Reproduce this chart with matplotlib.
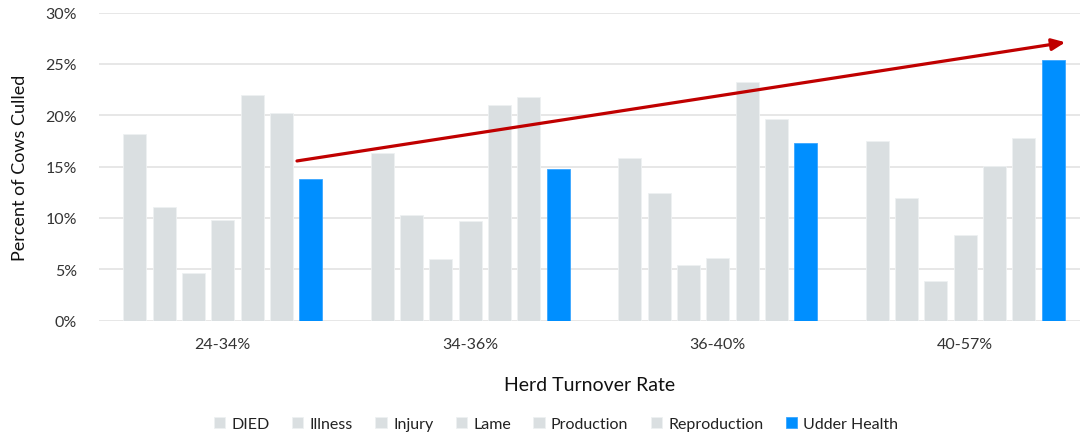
import matplotlib.pyplot as plt
import numpy as np

plt.rcParams['font.family'] = ['Lato', 'DejaVu Sans']

# data (percent of cows culled)
groups = ['24-34%', '34-36%', '36-40%', '40-57%']
reasons = ['DIED', 'Illness', 'Injury', 'Lame', 'Production', 'Reproduction', 'Udder Health']
died = [18.2, 16.3, 15.8, 17.5]
illness = [11.1, 10.3, 12.4, 11.9]
injury = [4.6, 6.0, 5.4, 3.9]
lame = [9.8, 9.7, 6.1, 8.3]
production = [22.0, 21.0, 23.2, 15.1]
reproduction = [20.2, 21.75, 19.6, 17.8]
udder_health = [13.8, 14.8, 17.3, 25.4]
series = [died, illness, injury, lame, production, reproduction, udder_health]

# trend arrow endpoints (x in group units, y in percent)
arrow_start = (0.30, 15.55)
arrow_end = (3.405, 27.1)

grey = '#DADFE1'
blue = '#008FFF'
colors = [grey] * 6 + [blue]

fig = plt.figure(figsize=(10.8, 4.39), dpi=100)
ax = fig.add_axes([99 / 1080, 117.3 / 439, 981 / 1080, 308.2 / 439])

x = np.arange(len(groups))
pitch = 0.1185
width = 0.093
for i, (vals, name, c) in enumerate(zip(series, reasons, colors)):
    offs = (i - 3) * pitch
    ax.bar(x + offs, vals, width, color=c, label=name, zorder=3,
           edgecolor='#EEF1F2' if c == grey else '#3AA6FF', linewidth=0.6)

ax.set_xlim(-0.5, 3.464)
ax.set_ylim(0, 30)
ax.set_yticks(np.arange(0, 31, 5))
ax.set_yticklabels([f'{v}%' for v in range(0, 31, 5)], fontsize=11.5, color='#333333')
ax.set_xticks(x)
ax.set_xticklabels(groups, fontsize=11.5, color='#333333')
ax.tick_params(length=0, pad=12)
ax.tick_params(axis='y', pad=16)
ax.grid(axis='y', color='#E3E3E3', linewidth=1.2, zorder=0)
for s in ax.spines.values():
    s.set_visible(False)

ax.set_xlabel('Herd Turnover Rate', fontsize=14, color='#111111', labelpad=18)
ax.set_ylabel('Percent of Cows Culled', fontsize=13, color='#111111', labelpad=12)

ax.annotate('', xy=arrow_end, xytext=arrow_start,
            arrowprops=dict(arrowstyle='-|>,head_length=0.8,head_width=0.35',
                            color='#C00000', lw=2.3, shrinkA=0, shrinkB=0),
            zorder=5)

fig.legend(loc='center', bbox_to_anchor=(0.515, 0.032), ncol=7, frameon=False,
           fontsize=11.5, handlelength=0.7, handleheight=0.7, handletextpad=0.4,
           columnspacing=1.4, labelcolor='#222222')

fig.savefig('out.png', dpi=100)
